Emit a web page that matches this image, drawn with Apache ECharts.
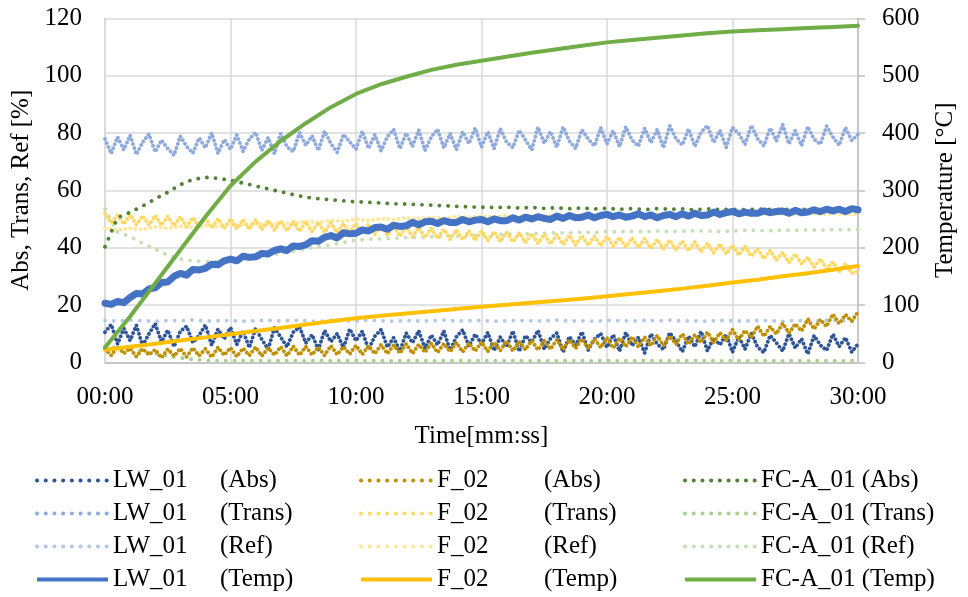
<!DOCTYPE html>
<html><head><meta charset="utf-8">
<script src="https://cdn.jsdelivr.net/npm/echarts@6/dist/echarts.min.js"></script>
<style>html,body{margin:0;padding:0;background:#fff}#c{width:968px;height:597px}</style>
</head><body><div id="c"></div>
<script>
// ---- data (left axis: %, right axis: °C); x in seconds ----
const STEP_15 = 15, STEP_30 = 30, STEP_60 = 60;
const X_TICKS = [0, 300, 600, 900, 1200, 1500, 1800];

const LW01_ABS = [ // 15 s
 10.5, 13.2, 6.4, 11.8, 7.6, 12.9, 5.8, 9.9, 13.5, 7.1, 11.2, 5.5, 10.8, 12.6, 6.9, 9.4, 13.0, 6.0, 11.5, 8.2, 12.1,
 6.2, 10.9, 5.1, 11.8, 7.9, 4.6, 12.0, 8.8, 5.4, 10.5, 12.3, 6.7, 9.6, 4.4, 11.1, 7.2, 10.0, 5.0, 11.6, 7.5,
 10.8, 4.5, 9.1, 11.4, 5.3, 8.6, 3.9, 10.2, 6.8, 11.0, 4.8, 9.5, 6.1, 10.9, 4.2, 8.9, 11.3, 5.6, 9.8, 6.4,
 10.4, 4.1, 8.8, 5.5, 10.9, 3.8, 9.3, 7.0, 11.1, 4.6, 8.3, 10.2, 3.6, 9.0, 5.9, 10.6, 4.3, 8.1, 10.0, 5.2,
 9.6, 3.9, 10.4, 5.8, 8.7, 3.3, 9.9, 6.3, 4.5, 10.3, 7.4, 3.7, 9.1, 5.4, 10.8, 4.0, 8.5, 6.1, 9.7, 3.5,
 8.9, 4.6, 10.1, 5.3, 3.4, 9.4, 6.8, 3.9, 10.0, 5.0, 8.2, 2.9, 9.3, 6.0, 4.2, 9.8, 5.5, 8.6, 3.6, 6.4];
const LW01_TRANS = [ // 15 s
 77.9, 72.8, 78.6, 74.1, 79.2, 72.5, 76.8, 79.6, 73.4, 77.5, 74.6, 72.2, 78.9, 75.3, 73.0, 78.3, 74.8, 80.0, 72.9, 77.7, 74.3,
 79.3, 73.6, 77.8, 80.2, 73.9, 78.4, 72.8, 79.8, 75.2, 73.5, 80.1, 75.7, 79.0, 73.9, 80.6, 76.3, 73.2, 79.5, 76.9, 74.4,
 80.6, 74.6, 79.4, 73.8, 78.7, 81.2, 74.5, 79.9, 75.3, 81.0, 73.9, 78.6, 81.3, 74.8, 79.8, 74.2, 80.4, 76.3, 81.7, 75.1,
 80.4, 74.5, 81.5, 76.8, 74.9, 80.9, 77.6, 74.1, 82.0, 76.4, 80.5, 75.0, 82.1, 77.2, 74.6, 81.1, 77.9, 75.5, 81.8, 76.2,
 80.8, 75.2, 82.2, 77.5, 75.4, 81.6, 76.6, 81.2, 74.8, 82.5, 77.9, 75.8, 81.4, 75.3, 80.3, 82.6, 76.7, 80.9, 75.0, 81.9,
 79.8, 75.9, 82.6, 78.0, 75.5, 81.7, 77.2, 82.9, 76.2, 80.8, 75.6, 82.2, 77.8, 76.1, 82.4, 78.6, 75.7, 81.9, 77.4, 79.5];
const LW01_REF = [ // 30 s
 14.6, 14.4, 14.7, 14.5, 14.3, 14.6, 14.5, 14.8, 14.4, 14.5,
 14.6, 14.3, 14.5, 14.7, 14.4, 14.6, 14.5, 14.3, 14.6, 14.5,
 14.4, 14.7, 14.5, 14.3, 14.6, 14.4, 14.5, 14.7, 14.4, 14.5,
 14.6, 14.3, 14.5, 14.6, 14.4, 14.5, 14.7, 14.4, 14.5, 14.3,
 14.6, 14.5, 14.4, 14.6, 14.5, 14.7, 14.4, 14.5, 14.3, 14.6,
 14.5, 14.4, 14.6, 14.5, 14.3, 14.6, 14.4, 14.5, 14.7, 14.4,
 14.5];
const LW01_TEMP = [ // 15 s, °C
 103, 101, 106, 104, 113, 120, 119, 128, 130, 139, 140, 150, 155, 152, 162, 161,
 164, 171, 170, 177, 180, 177, 185, 183, 184, 190, 189, 195, 198, 195, 203, 202,
 205, 212, 211, 218, 221, 217, 226, 224, 225, 231, 229, 235, 236, 232, 239, 237,
 238, 244, 240, 245, 246, 242, 247, 244, 244, 249, 245, 248, 249, 245, 250, 247,
 247, 252, 248, 253, 250, 254, 251, 249, 255, 251, 256, 252, 253, 257, 252, 256,
 258, 254, 257, 253, 255, 259, 254, 257, 252, 256, 258, 254, 259, 255, 260, 256,
 257, 262, 258, 261, 263, 259, 262, 260, 260, 264, 261, 263, 264, 260, 265, 261,
 262, 266, 263, 267, 264, 267, 263, 268, 266];

const F02_ABS = [ // 15 s
 4.6, 2.4, 5.5, 3.1, 4.9, 2.0, 4.7, 2.6, 4.4, 1.6, 4.6, 2.2, 4.8, 1.9, 5.0, 2.3,
 4.7, 1.8, 5.2, 2.5, 5.1, 2.0, 4.9, 2.4, 5.3, 2.2, 5.0, 2.6, 5.4, 2.3, 5.6, 2.5,
 5.5, 2.6, 5.3, 2.4, 5.8, 2.7, 5.4, 2.9, 5.9, 2.8, 5.7, 3.0, 6.1, 3.0, 6.0, 3.2,
 6.4, 3.1, 6.2, 3.5, 6.6, 3.4, 6.5, 3.7, 6.9, 3.6, 6.7, 3.9, 7.1, 3.8, 7.0, 4.1,
 7.4, 4.0, 7.2, 4.4, 7.6, 4.3, 7.5, 4.6, 7.9, 4.5, 7.8, 4.9, 8.2, 4.8, 8.1, 5.2,
 8.5, 5.0, 8.4, 5.5, 8.9, 5.4, 8.8, 5.8, 9.3, 5.8, 9.1, 6.3, 9.9, 6.3, 9.6, 6.9,
 10.5, 6.9, 10.3, 7.6, 11.4, 7.8, 11.1, 8.6, 12.6, 9.1, 12.4, 9.9, 13.6, 10.2, 13.4, 10.9,
 15.1, 11.6, 14.9, 12.5, 16.8, 13.5, 16.6, 14.3, 17.6];
const F02_TRANS = [ // 15 s
 52.0, 48.6, 51.3, 48.2, 51.6, 48.0, 51.1, 47.9, 51.2, 47.8, 50.9, 47.6, 50.8, 47.3, 50.5, 47.1,
 50.4, 46.9, 50.1, 46.8, 50.0, 46.6, 49.8, 46.4, 49.7, 46.3, 49.5, 46.1, 49.3, 45.9, 49.1, 45.7,
 49.0, 45.6, 48.8, 45.3, 48.7, 45.2, 48.4, 45.0, 48.5, 44.9, 48.1, 44.6, 47.8, 44.3, 47.5, 44.0,
 47.3, 43.8, 47.0, 43.5, 46.7, 43.2, 46.4, 42.9, 46.2, 42.8, 45.9, 42.5, 45.8, 42.4, 45.6, 42.1,
 45.4, 42.0, 45.2, 41.8, 44.9, 41.5, 44.7, 41.2, 44.5, 41.1, 44.3, 40.9, 44.2, 40.8, 44.0, 40.6,
 43.9, 40.5, 43.6, 40.2, 43.4, 40.0, 43.1, 39.7, 42.8, 39.5, 42.6, 39.1, 42.3, 38.9, 42.0, 38.5,
 41.6, 38.2, 41.3, 37.8, 40.8, 37.4, 40.4, 37.0, 39.6, 36.1, 39.1, 35.6, 38.3, 34.8, 37.8, 34.3,
 36.6, 33.2, 36.1, 32.7, 35.0, 31.6, 34.4, 31.1, 31.8];
const F02_REF = [ // 30 s
 46.8, 46.2, 46.7, 46.3, 47.2, 46.8, 47.4, 47.0, 47.7, 47.3, 48.0, 47.7, 48.4, 48.0, 48.7, 48.4,
 49.2, 48.8, 49.5, 49.2, 49.9, 49.5, 50.1, 49.8, 50.4, 50.0, 50.6, 50.2, 50.9, 50.5, 51.0, 50.7,
 51.2, 50.8, 51.3, 50.9, 51.4, 51.0, 51.5, 51.1, 51.6, 51.2, 51.5, 51.1, 51.7, 51.3, 51.6, 51.2,
 51.8, 51.4, 51.7, 51.3, 51.9, 51.5, 51.8, 51.4, 52.0, 51.6, 51.9, 51.5, 51.8];
const F02_TEMP = [ // 60 s, °C
 22, 27, 32.5, 38, 43.5, 49, 54.5, 60, 66, 71.5, 77, 81, 85, 89, 93, 97,
 100.5, 104, 107.5, 111, 115, 119.5, 124, 128.5, 133.5, 139, 144, 150, 155.5, 161.5, 168];

const FCA01_ABS = [ // 30 s
 40.3, 50.5, 52.3, 54.5, 57.0, 59.3, 62.0, 63.8, 64.5, 64.2, 63.5, 62.5, 61.5, 60.5, 59.5, 58.5,
 57.6, 57.1, 56.7, 56.3, 56.0, 55.8, 55.6, 55.3, 55.2, 55.0, 54.8, 54.6, 54.4, 54.2, 54.1, 54.0,
 54.1, 53.8, 54.0, 53.7, 53.9, 53.6, 53.8, 53.5, 53.7, 53.4, 53.6, 53.3, 53.6, 53.4, 53.5, 53.2,
 53.5, 53.3, 53.4, 53.2, 53.5, 53.3, 53.4, 53.2, 53.4, 53.1, 53.3, 53.2, 53.3];
const FCA01_TRANS = [ // 30 s
 5.5, 5.2, 4.6, 3.8, 3.0, 2.2, 1.5, 1.0, 0.7, 0.6, 0.5, 0.6, 0.6, 0.5, 0.6, 0.6,
 0.5, 0.6, 0.5, 0.6, 0.6, 0.5, 0.6, 0.5, 0.6, 0.6, 0.5, 0.6, 0.5, 0.6, 0.6, 0.5,
 0.6, 0.6, 0.5, 0.6, 0.5, 0.6, 0.6, 0.5, 0.6, 0.5, 0.6, 0.6, 0.5, 0.6, 0.5, 0.6,
 0.6, 0.5, 0.6, 0.5, 0.6, 0.6, 0.5, 0.6, 0.5, 0.6, 0.6, 0.5, 0.6];
const FCA01_REF = [ // 30 s
 53.5, 45.5, 43.8, 41.5, 39.5, 37.4, 36.0, 35.4, 35.1, 35.3, 35.6, 36.0, 36.5, 37.2, 38.0, 38.8,
 39.6, 40.3, 41.0, 41.8, 42.6, 42.9, 43.1, 43.3, 43.5, 43.6, 43.8, 43.9, 44.1, 44.2, 44.4, 44.5,
 44.7, 44.6, 44.9, 45.0, 45.2, 45.1, 45.4, 45.3, 45.6, 45.5, 45.7, 45.5, 45.8, 45.6, 45.7, 45.9,
 45.8, 45.6, 45.8, 46.0, 46.0, 45.9, 46.1, 46.0, 46.2, 46.1, 46.3, 46.2, 46.4];
const FCA01_TEMP = [ // 60 s, °C
 26, 80, 138, 196, 254, 308, 350, 386, 417, 445, 468, 485, 498, 510, 519, 526,
 533, 540, 546, 552, 558, 562, 566, 570, 574, 577, 579, 581, 583, 585, 587];

// ---- chart ----
const FONT = '"Liberation Serif","Times New Roman",serif';
const FS = 25;
const DOT = [0.1, 8.6];

function pts(arr, step) { return arr.map((v, i) => [i * step, v]); }
function dotted(name, arr, step, color, gap) {
  return { name, type: 'line', yAxisIndex: 0, symbol: 'none', silent: true,
    data: pts(arr, step), itemStyle: { color },
    lineStyle: { color, width: 3.8, type: [0.1, gap], cap: 'round', join: 'round' } };
}
function solid(name, arr, step, color, width) {
  return { name, type: 'line', yAxisIndex: 1, symbol: 'none', silent: true,
    data: pts(arr, step), itemStyle: { color },
    lineStyle: { color, width, type: 'solid', cap: 'round', join: 'round' } };
}

const series = [
  dotted('LW_01 (Ref)', LW01_REF, STEP_30, '#B4C7E7', 8.6),
  dotted('F_02 (Ref)', F02_REF, STEP_30, '#FFE699', 5),
  dotted('FC-A_01 (Ref)', FCA01_REF, STEP_30, '#C5E0B4', 8.6),
  dotted('LW_01 (Trans)', LW01_TRANS, STEP_15, '#8FAADC', 4.2),
  dotted('F_02 (Trans)', F02_TRANS, STEP_15, '#FFD966', 4.2),
  dotted('FC-A_01 (Trans)', FCA01_TRANS, STEP_30, '#A9D18E', 8.6),
  dotted('LW_01 (Abs)', LW01_ABS, STEP_15, '#2F5597', 4.2),
  dotted('F_02 (Abs)', F02_ABS, STEP_15, '#BF9000', 4.2),
  dotted('FC-A_01 (Abs)', FCA01_ABS, STEP_30, '#548235', 8.6),
  solid('LW_01 (Temp)', LW01_TEMP, STEP_15, '#4472C4', 7),
  solid('F_02 (Temp)', F02_TEMP, STEP_60, '#FFC000', 4),
  solid('FC-A_01 (Temp)', FCA01_TEMP, STEP_60, '#70AD47', 4)
];

function legendAt(left, names) {
  return {
    orient: 'vertical', left, top: 464, padding: 0, itemGap: 0,
    itemWidth: 71, itemHeight: 14, selectedMode: false,
    itemStyle: { opacity: 0 },
    lineStyle: { width: 4 },
    data: names.map(n => ({ name: n,
      lineStyle: n.indexOf('Temp') >= 0 ? { type: 'solid', width: 4, cap: 'butt' }
                                        : { type: DOT, width: 4, cap: 'round' } })),
    formatter: n => {
      if (n.indexOf('FC-A_01') === 0) return '{c|' + n + '}';
      const p = n.split(' ');
      return '{a|' + p[0] + '}{c|' + p[1] + '}';
    },
    textStyle: { color: '#000', fontFamily: FONT, fontSize: FS, lineHeight: 33,
      rich: {
        a: { width: 107, color: '#000', fontFamily: FONT, fontSize: FS, lineHeight: 33 },
        c: { color: '#000', fontFamily: FONT, fontSize: FS, lineHeight: 33 }
      } }
  };
}

const pad = v => (v < 10 ? '0' : '') + v;
const chart = echarts.init(document.getElementById('c'), null, { renderer: 'canvas' });
chart.setOption({
  animation: false,
  backgroundColor: '#fff',
  grid: { left: 105, right: 110, top: 18.3, bottom: 234.7 },
  xAxis: {
    type: 'value', min: X_TICKS[0], max: X_TICKS[X_TICKS.length - 1], interval: 300,
    name: 'Time[mm:ss]', nameLocation: 'middle', nameGap: 62,
    nameTextStyle: { color: '#000', fontFamily: FONT, fontSize: FS },
    axisLine: { show: true, lineStyle: { color: '#BFBFBF', width: 1.5 } },
    axisTick: { show: false },
    axisLabel: { color: '#000', fontFamily: FONT, fontSize: FS, margin: 23,
      formatter: v => pad(Math.floor(v / 60)) + ':' + pad(v % 60) },
    splitLine: { show: true, lineStyle: { color: '#D9D9D9', width: 1.5 } }
  },
  yAxis: [
    { type: 'value', min: 0, max: 120, interval: 20, position: 'left',
      name: 'Abs, Trans, Ref [%]', nameLocation: 'middle', nameGap: 66,
      nameTextStyle: { color: '#000', fontFamily: FONT, fontSize: FS },
      axisLine: { show: true, lineStyle: { color: '#D9D9D9', width: 1.5 } },
      axisTick: { show: false },
      axisLabel: { color: '#000', fontFamily: FONT, fontSize: FS, margin: 23 },
      splitLine: { show: true, lineStyle: { color: '#D9D9D9', width: 1.5 } } },
    { type: 'value', min: 0, max: 600, interval: 100, position: 'right',
      name: 'Temperature [°C]', nameLocation: 'middle', nameGap: 75,
      nameTextStyle: { color: '#000', fontFamily: FONT, fontSize: FS },
      axisLine: { show: true, lineStyle: { color: '#BFBFBF', width: 1.5 } },
      axisTick: { show: true, inside: false, length: 7, lineStyle: { color: '#BFBFBF', width: 1.5 } },
      axisLabel: { color: '#000', fontFamily: FONT, fontSize: FS, margin: 24 },
      splitLine: { show: false } }
  ],
  legend: [
    legendAt(35, ['LW_01 (Abs)', 'LW_01 (Trans)', 'LW_01 (Ref)', 'LW_01 (Temp)']),
    legendAt(359, ['F_02 (Abs)', 'F_02 (Trans)', 'F_02 (Ref)', 'F_02 (Temp)']),
    legendAt(683, ['FC-A_01 (Abs)', 'FC-A_01 (Trans)', 'FC-A_01 (Ref)', 'FC-A_01 (Temp)'])
  ],
  series
});
</script></body></html>
